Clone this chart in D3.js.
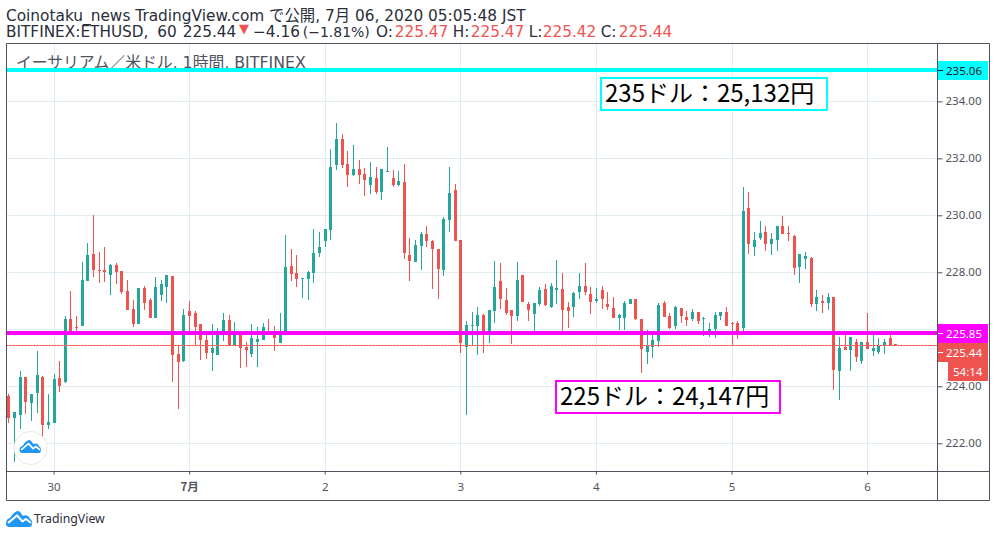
<!DOCTYPE html>
<html>
<head>
<meta charset="utf-8">
<script src="https://d3js.org/d3.v7.min.js"></script>
<style>
  html, body { margin: 0; padding: 0; background: #fff; }
  svg { display: block; }
  text { font-family: "Noto Sans", "Noto Sans CJK JP", sans-serif; }
  .cjk { font-family: "Noto Sans CJK JP", sans-serif; }
  .ancha { font-family: "DejaVu Sans", "Noto Sans CJK JP", sans-serif; }
</style>
</head>
<body>
<div id="grafico"></div>
<script>
const opens = [223.66,222.89,222.99,224.33,223.42,223.77,224.33,222.64,222.71,224.29,224.15,226.36,226.07,226.12,227.70,228.64,228.08,228.08,227.91,228.26,228.05,227.35,226.71,226.19,227.45,227.03,226.40,227.20,227.49,
  227.87,225.13,224.89,226.64,226.57,226.19,225.62,225.17,225.10,225.80,226.33,225.45,225.80,225.38,225.13,225.55,225.62,225.92,225.80,225.52,225.94,228.22,227.98,227.76,227.76,227.98,228.68,229.10,
  229.48,231.76,232.68,231.80,231.41,231.62,231.45,231.06,231.31,230.82,231.52,231.31,231.06,231.17,228.61,228.36,228.92,229.34,229.10,228.82,228.08,229.84,230.89,229.13,225.38,226.12,226.12,
  226.50,225.94,226.64,227.69,227.03,226.68,226.47,227.90,226.89,226.54,226.89,227.41,226.78,227.38,227.41,226.78,226.78,227.31,227.52,227.24,226.99,227.38,226.89,226.75,226.40,226.40,226.89,227.06,226.36,
  225.20,225.38,225.59,226.92,226.47,226.12,226.75,226.43,226.36,226.61,226.40,225.92,226.01,226.47,226.61,226.22,226.22,226.05,230.26,228.89,229.20,229.41,228.99,229.13,229.62,229.38,229.27,228.19,
  228.47,228.50,226.89,226.99,226.92,227.13,224.54,225.38,225.27,225.55,224.89,225.55,225.24,225.20,225.41,225.69,225.47];
const closes = [222.89,223.10,224.33,223.45,223.73,224.40,222.64,222.75,224.26,224.01,226.36,225.80,226.05,227.73,228.61,228.08,228.05,228.01,228.26,228.01,227.31,226.68,226.19,227.45,226.92,226.40,227.49,227.59,227.91,
  225.10,224.85,226.50,226.47,226.08,225.62,225.17,225.34,225.80,226.33,225.45,225.80,225.34,225.27,225.70,225.66,226.08,225.80,225.70,225.80,228.19,227.94,227.76,227.80,228.01,228.68,228.89,229.52,
  231.69,232.68,231.76,231.41,231.62,231.41,231.24,231.34,230.82,231.62,231.55,231.06,231.20,228.68,228.40,228.96,229.34,229.10,228.82,228.12,229.87,230.78,229.10,225.52,226.15,226.15,226.50,
  225.94,226.68,227.48,227.06,226.57,226.47,227.73,226.96,226.68,226.92,227.38,226.85,227.52,227.45,226.68,226.64,227.27,227.52,227.31,226.96,227.06,227.06,226.78,226.40,226.50,226.92,227.06,226.36,225.31,
  225.45,225.62,226.85,226.43,226.05,226.78,226.47,226.33,226.61,226.29,226.40,226.01,226.50,226.61,226.12,226.19,225.92,230.15,228.99,229.13,229.38,228.99,229.17,229.62,229.34,229.34,228.15,228.64,
  228.57,226.89,227.13,226.92,227.13,224.57,225.34,225.27,225.73,225.03,225.55,225.31,225.34,225.45,225.55,225.41,225.44];
const highs = [223.73,223.10,224.54,224.33,223.73,225.24,224.36,223.73,224.43,224.89,226.47,227.35,226.47,228.36,229.03,230.01,228.71,228.89,228.29,228.33,228.05,227.73,227.03,227.45,227.52,227.10,227.84,227.73,227.91,
  227.87,225.45,226.71,226.99,226.64,226.19,225.80,226.19,226.05,226.57,226.50,226.26,225.80,225.55,226.19,226.08,226.22,226.36,226.12,226.57,229.31,228.82,228.61,227.80,228.05,229.52,229.41,229.52,
  232.33,233.24,232.85,232.26,232.47,231.94,231.66,231.87,231.69,231.62,232.40,231.59,231.55,231.80,229.20,229.13,229.41,229.62,229.13,228.82,229.94,231.69,231.10,229.13,226.29,226.60,226.78,
  226.54,226.68,228.40,228.33,227.45,226.68,228.36,227.90,226.96,226.92,227.48,227.59,227.62,228.43,227.97,226.96,227.31,227.97,228.33,227.48,227.45,227.52,227.31,227.13,226.54,226.99,227.06,227.06,226.36,
  225.98,225.80,226.92,226.99,226.57,226.82,226.75,226.64,226.71,226.61,226.43,226.22,226.61,226.61,226.78,226.26,226.29,230.99,230.82,229.41,229.80,229.62,229.38,229.62,229.98,229.62,229.31,228.64,
  228.71,228.53,227.38,227.20,227.27,227.13,225.73,225.80,225.73,225.66,225.55,226.57,225.80,225.69,225.66,225.80,225.47];
const lows = [222.71,221.35,222.50,223.03,222.78,223.06,222.22,222.50,222.71,223.80,224.12,225.80,225.92,226.12,227.70,227.84,227.63,227.66,227.20,227.59,227.24,226.68,226.08,226.19,226.68,226.40,226.40,226.99,226.92,
  224.15,223.20,224.85,225.92,225.45,224.92,224.96,224.54,225.10,225.59,225.41,225.45,224.64,224.68,225.03,224.68,225.62,225.80,225.24,225.52,225.94,227.69,227.48,227.10,227.03,227.62,228.54,228.89,
  229.13,231.59,231.66,230.99,231.38,231.10,230.68,230.75,230.75,230.54,231.52,230.99,231.03,228.47,227.69,228.36,228.08,228.89,227.41,227.06,227.87,229.41,229.10,225.17,222.99,225.41,225.10,
  225.17,225.52,226.22,226.71,226.50,225.48,226.29,226.96,226.29,225.94,226.82,226.82,226.75,226.89,225.94,226.05,226.43,227.06,227.20,226.54,226.92,226.71,226.68,226.40,225.97,225.97,226.89,226.33,224.47,
  224.78,224.99,225.38,226.43,226.01,226.01,226.22,226.12,226.29,226.19,225.76,225.73,225.69,226.33,226.12,225.41,225.66,225.91,228.64,228.57,229.13,228.75,228.61,228.75,229.34,229.10,227.90,227.62,
  228.12,226.78,226.64,226.57,226.68,223.87,223.52,225.27,224.54,224.85,224.78,225.31,225.06,225.13,225.13,225.41,225.42];

const priceTicks = [222, 224, 226, 228, 230, 232, 234];
const dayTickIndex = [8, 32, 56, 80, 104, 128, 152];
const dayTickLabels = ['30', '7月', '2', '3', '4', '5', '6'];
const drawnLevels = [235.1, 225.87];
const drawnLabels = ['235.06', '225.85'];
const drawnColors = ['#00ffff', '#ff00ff'];
const lastPrice = 225.44;

const VERDE = '#26a69a', ROJO = '#ef5350', GRIS = '#50535e', REJILLA = '#e1ecf2', TINTA = '#2a2e39';
const width = 996, height = 537;

const svg = d3.select('#grafico').append('svg')
  .attr('width', width)
  .attr('height', height);

const x = d3.scaleLinear().domain([0, 157]).range([8.3, 895.35]);
const y = d3.scaleLinear().domain([221.01, 236.03]).range([471.5, 43.5]);
const left = 6.5, right = 937.5, top_ = 43.5, bottom = 471.5, outer = 989.5, below = 500.5;

// rejilla
svg.append('g').selectAll('line').data(priceTicks).join('line')
  .attr('x1', left).attr('x2', right)
  .attr('y1', d => Math.round(y(d)) + 0.5).attr('y2', d => Math.round(y(d)) + 0.5)
  .attr('stroke', REJILLA);
svg.append('g').selectAll('line').data(dayTickIndex).join('line')
  .attr('x1', d => Math.round(x(d)) + 0.5).attr('x2', d => Math.round(x(d)) + 0.5)
  .attr('y1', top_).attr('y2', bottom)
  .attr('stroke', REJILLA);

// rotulo del par
svg.append('text').attr('class', 'ancha')
  .attr('x', 16).attr('y', 68)
  .attr('font-size', 15.8).attr('fill', GRIS)
  .text('イーサリアム／米ドル, 1時間, BITFINEX');

// velas
const candles = d3.range(opens.length);
const velas = svg.append('g').attr('shape-rendering', 'crispEdges');
velas.selectAll('.wick').data(candles).join('rect')
  .attr('class', 'wick')
  .attr('x', i => Math.round(x(i)))
  .attr('width', 1)
  .attr('y', i => y(highs[i]))
  .attr('height', i => Math.max(1, y(lows[i]) - y(highs[i])))
  .attr('fill', i => closes[i] >= opens[i] ? VERDE : ROJO);
velas.selectAll('.body').data(candles).join('rect')
  .attr('class', 'body')
  .attr('x', i => Math.round(x(i)) - 1)
  .attr('width', 3)
  .attr('y', i => y(Math.max(opens[i], closes[i])))
  .attr('height', i => Math.max(1, Math.abs(y(opens[i]) - y(closes[i]))))
  .attr('fill', i => closes[i] >= opens[i] ? VERDE : ROJO);

// lineas dibujadas y ultimo precio
const yUltimo = Math.round(y(lastPrice)) + 0.5;
svg.append('line')
  .attr('x1', left).attr('x2', right).attr('y1', yUltimo).attr('y2', yUltimo)
  .attr('stroke', '#ffb4b4');
svg.append('line')
  .attr('x1', left).attr('x2', right).attr('y1', yUltimo).attr('y2', yUltimo)
  .attr('stroke', '#f44336').attr('stroke-dasharray', '2 1');
svg.append('g').selectAll('line').data(drawnLevels).join('line')
  .attr('x1', left).attr('x2', right)
  .attr('y1', d => y(d)).attr('y2', d => y(d))
  .attr('stroke', (d, i) => drawnColors[i])
  .attr('stroke-width', 4);

// marco
svg.append('path')
  .attr('d', `M${left},${below}V${top_}H${outer}V${below}H${left}M${left},${bottom}H${outer}M${right},${top_}V${below}`)
  .attr('fill', 'none').attr('stroke', GRIS);

// ejes
const ejeY = svg.append('g')
  .attr('transform', `translate(${right},0)`)
  .call(d3.axisRight(y).tickValues(priceTicks).tickFormat(d3.format('.2f')).tickSize(5).tickPadding(3));
ejeY.select('.domain').remove();
ejeY.selectAll('.tick line').attr('stroke', GRIS);
ejeY.selectAll('text').attr('font-size', 11.5).attr('fill', GRIS).attr('dy', '0.25em');

const ejeX = svg.append('g')
  .attr('transform', `translate(0,${bottom})`)
  .call(d3.axisBottom(x).tickValues(dayTickIndex).tickFormat((d, i) => dayTickLabels[i]).tickSize(3).tickPadding(8));
ejeX.select('.domain').remove();
ejeX.selectAll('.tick line').attr('stroke', GRIS);
ejeX.selectAll('text')
  .attr('font-size', 11.5).attr('fill', GRIS)
  .attr('font-weight', d => d === 32 ? 'bold' : null)
  .attr('class', d => d === 32 ? 'cjk' : null);

// etiquetas de precio (cy = centro de la etiqueta, no siempre el del precio)
function etiqueta(cy, texto, color, tinta) {
  svg.append('rect').attr('x', 938).attr('y', cy - 9).attr('width', 50).attr('height', 19).attr('fill', color);
  svg.append('line').attr('x1', 938).attr('x2', 943).attr('y1', cy + 0.5).attr('y2', cy + 0.5).attr('stroke', tinta);
  svg.append('text').attr('x', 946).attr('y', cy + 4.5)
    .attr('font-size', 11.5).attr('fill', tinta).text(texto);
}
etiqueta(Math.round(y(drawnLevels[0])), drawnLabels[0], drawnColors[0], '#131722');
etiqueta(Math.round(y(drawnLevels[1])), drawnLabels[1], drawnColors[1], '#fff');
etiqueta(Math.round(y(drawnLevels[1])) + 19, '225.44', ROJO, '#fff');
svg.append('rect').attr('x', 948).attr('y', 362).attr('width', 40).attr('height', 19).attr('fill', ROJO);
svg.append('text').attr('x', 953).attr('y', 376).attr('font-size', 11.5).attr('fill', '#fff').text('54:14');

// notas
function nota(px, py, w, h, color, texto) {
  svg.append('rect').attr('x', px).attr('y', py).attr('width', w).attr('height', h)
    .attr('fill', '#fff').attr('stroke', color).attr('stroke-width', 2);
  svg.append('text').attr('class', 'cjk').attr('x', px + 4).attr('y', py + h / 2 + 8)
    .attr('font-size', 24).attr('fill', '#000').text(texto);
}
nota(601, 78, 226, 32, '#00ffff', '235ドル：25,132円');
nota(556, 381, 224, 32, '#ff00ff', '225ドル：24,147円');

// cabecera
svg.append('text').attr('class', 'ancha').attr('x', 6).attr('y', 21)
  .attr('font-size', 15.35).attr('fill', TINTA)
  .text('Coinotaku_news TradingView.com で公開, 7月 06, 2020 05:05:48 JST');
const cabecera = svg.append('text').attr('class', 'ancha').attr('y', 37)
  .attr('font-size', 15.3).attr('fill', TINTA);
const trozos = [
  ['BITFINEX:ETHUSD,', 6, null], ['60', 157.3, null], ['225.44', 182.7, null],
  ['−4.16', 253, null], ['(−1.81%)', 302.7, null],
  ['O:', 376, null], ['225.47', 394.7, ROJO],
  ['H:', 452.7, null], ['225.47', 470.7, ROJO],
  ['L:', 528.7, null], ['225.42', 542.7, ROJO],
  ['C:', 600.7, null], ['225.44', 618.7, ROJO]
];
trozos.forEach(t => cabecera.append('tspan')
  .attr('x', t[1]).attr('fill', t[2])
  .attr('font-size', t[0][0] === '(' ? 14 : null)
  .text(t[0]));
svg.append('text').attr('x', 239).attr('y', 32.5).attr('font-size', 13).attr('fill', ROJO)
  .attr('class', 'ancha').text('▼');

// logos
function nube(px, py, k) {
  const g = svg.append('g').attr('transform', `translate(${px},${py}) scale(${k})`);
  g.append('path')
    .attr('d', 'M0,12 C0,9 2,7.5 4,7 C6,4 9,0 12,0 C14,0 15.5,3 17,5 C19,3.5 23,4 24,8 C26,9 26.5,11 26,13 C26,15 25,16 23,16 L3,16 C1,16 0,14.5 0,12Z')
    .attr('fill', '#2196f3');
  g.append('path')
    .attr('d', 'M2,12 L11,4.5 L16.5,10.5 L20,8 L25,12')
    .attr('fill', 'none').attr('stroke', '#fff').attr('stroke-width', 2);
}
svg.append('circle').attr('cx', 30.5).attr('cy', 448).attr('r', 16.5)
  .attr('fill', '#fff').attr('stroke', '#e8e8e8').attr('stroke-width', 1);
nube(19.5, 440, 0.82);
nube(6, 511, 1);
svg.append('text').attr('x', 34).attr('y', 523)
  .attr('font-size', 12.3).attr('fill', TINTA).text('TradingView');
</script>
</body>
</html>
